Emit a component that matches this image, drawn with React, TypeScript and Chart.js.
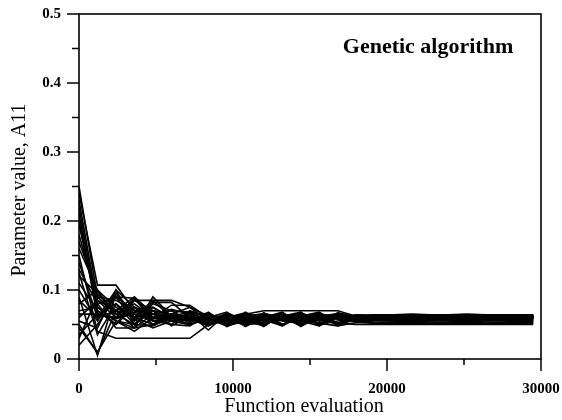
import { useEffect, useRef } from "react";
import { Chart, registerables } from "chart.js";

Chart.register(...registerables);

// Function evaluations at which each GA run was sampled
const EVALS = [0, 1200, 2400, 3600, 4800, 6000, 7200, 8400, 9600, 10800, 12000, 13200, 14400, 15600, 16800, 18000, 19200, 20400, 21600, 22800, 24000, 25200, 26400, 27600, 28800, 29500];

// Parameter value A11 for each run
const run01 = [0.25, 0.09, 0.085, 0.07, 0.065, 0.06, 0.058, 0.062, 0.06, 0.064, 0.06, 0.058, 0.061, 0.059, 0.062, 0.06, 0.061, 0.06, 0.06, 0.061, 0.06, 0.06, 0.061, 0.06, 0.06, 0.06];
const run02 = [0.24, 0.107, 0.107, 0.07, 0.06, 0.055, 0.06, 0.052, 0.058, 0.055, 0.06, 0.057, 0.055, 0.06, 0.058, 0.06, 0.062, 0.061, 0.062, 0.062, 0.061, 0.062, 0.062, 0.061, 0.062, 0.062];
const run03 = [0.22, 0.07, 0.05, 0.085, 0.085, 0.06, 0.055, 0.067, 0.048, 0.062, 0.066, 0.05, 0.06, 0.067, 0.052, 0.058, 0.06, 0.059, 0.06, 0.059, 0.06, 0.059, 0.06, 0.06, 0.059, 0.059];
const run04 = [0.21, 0.06, 0.09, 0.055, 0.082, 0.082, 0.06, 0.055, 0.062, 0.05, 0.058, 0.06, 0.052, 0.058, 0.06, 0.057, 0.058, 0.058, 0.057, 0.058, 0.058, 0.057, 0.058, 0.058, 0.058, 0.058];
const run05 = [0.2, 0.065, 0.06, 0.075, 0.06, 0.078, 0.078, 0.06, 0.068, 0.05, 0.066, 0.06, 0.048, 0.064, 0.052, 0.062, 0.063, 0.062, 0.063, 0.064, 0.063, 0.064, 0.063, 0.063, 0.063, 0.063];
const run06 = [0.16, 0.1, 0.075, 0.06, 0.07, 0.055, 0.05, 0.058, 0.065, 0.058, 0.052, 0.06, 0.065, 0.055, 0.06, 0.055, 0.052, 0.052, 0.052, 0.052, 0.052, 0.052, 0.052, 0.052, 0.052, 0.052];
const run07 = [0.15, 0.04, 0.03, 0.03, 0.03, 0.03, 0.03, 0.05, 0.055, 0.06, 0.055, 0.062, 0.058, 0.052, 0.06, 0.058, 0.06, 0.06, 0.06, 0.061, 0.06, 0.06, 0.06, 0.061, 0.06, 0.06];
const run08 = [0.13, 0.08, 0.045, 0.045, 0.05, 0.065, 0.058, 0.048, 0.06, 0.062, 0.056, 0.05, 0.06, 0.064, 0.058, 0.056, 0.056, 0.055, 0.056, 0.055, 0.056, 0.055, 0.055, 0.056, 0.055, 0.055];
const run09 = [0.12, 0.095, 0.065, 0.05, 0.075, 0.06, 0.065, 0.042, 0.066, 0.05, 0.065, 0.056, 0.068, 0.05, 0.064, 0.06, 0.061, 0.062, 0.061, 0.06, 0.061, 0.061, 0.062, 0.061, 0.061, 0.061];
const run10 = [0.1, 0.055, 0.095, 0.065, 0.055, 0.05, 0.07, 0.06, 0.052, 0.065, 0.07, 0.07, 0.07, 0.07, 0.07, 0.062, 0.06, 0.06, 0.059, 0.06, 0.06, 0.059, 0.06, 0.06, 0.06, 0.06];
const run11 = [0.09, 0.005, 0.095, 0.06, 0.05, 0.06, 0.062, 0.048, 0.065, 0.047, 0.06, 0.068, 0.05, 0.066, 0.048, 0.06, 0.058, 0.059, 0.058, 0.059, 0.059, 0.058, 0.059, 0.058, 0.059, 0.059];
const run12 = [0.08, 0.1, 0.06, 0.088, 0.055, 0.058, 0.065, 0.066, 0.055, 0.05, 0.062, 0.066, 0.055, 0.06, 0.065, 0.06, 0.062, 0.061, 0.061, 0.062, 0.061, 0.061, 0.062, 0.062, 0.061, 0.061];
const run13 = [0.07, 0.075, 0.055, 0.045, 0.065, 0.07, 0.055, 0.062, 0.06, 0.058, 0.05, 0.06, 0.065, 0.06, 0.052, 0.05, 0.05, 0.05, 0.05, 0.05, 0.05, 0.05, 0.05, 0.05, 0.05, 0.05];
const run14 = [0.065, 0.065, 0.08, 0.058, 0.045, 0.055, 0.06, 0.057, 0.062, 0.052, 0.058, 0.063, 0.05, 0.057, 0.06, 0.063, 0.064, 0.064, 0.065, 0.064, 0.064, 0.065, 0.064, 0.064, 0.064, 0.064];
const run15 = [0.06, 0.085, 0.07, 0.08, 0.06, 0.05, 0.048, 0.065, 0.05, 0.06, 0.057, 0.048, 0.062, 0.058, 0.05, 0.057, 0.057, 0.057, 0.058, 0.057, 0.057, 0.057, 0.058, 0.057, 0.057, 0.057];
const run16 = [0.055, 0.045, 0.1, 0.05, 0.07, 0.065, 0.052, 0.068, 0.05, 0.062, 0.047, 0.065, 0.055, 0.048, 0.067, 0.06, 0.062, 0.062, 0.063, 0.062, 0.062, 0.063, 0.062, 0.062, 0.063, 0.062];
const run17 = [0.05, 0.008, 0.07, 0.045, 0.09, 0.062, 0.058, 0.052, 0.058, 0.066, 0.06, 0.055, 0.052, 0.065, 0.058, 0.054, 0.055, 0.055, 0.054, 0.055, 0.055, 0.054, 0.055, 0.055, 0.054, 0.055];
const run18 = [0.02, 0.05, 0.09, 0.07, 0.075, 0.058, 0.06, 0.055, 0.063, 0.056, 0.062, 0.057, 0.063, 0.05, 0.055, 0.059, 0.06, 0.061, 0.06, 0.06, 0.061, 0.06, 0.06, 0.06, 0.061, 0.06];
const run19 = [0.035, 0.065, 0.058, 0.068, 0.058, 0.072, 0.065, 0.058, 0.048, 0.055, 0.06, 0.066, 0.058, 0.062, 0.066, 0.062, 0.063, 0.063, 0.062, 0.063, 0.063, 0.062, 0.063, 0.063, 0.062, 0.063];
const run20 = [0.045, 0.01, 0.055, 0.04, 0.06, 0.06, 0.05, 0.06, 0.056, 0.05, 0.052, 0.058, 0.06, 0.052, 0.048, 0.053, 0.052, 0.053, 0.053, 0.052, 0.053, 0.053, 0.052, 0.053, 0.053, 0.053];
const run21 = [0.18, 0.085, 0.06, 0.065, 0.058, 0.062, 0.068, 0.055, 0.06, 0.062, 0.058, 0.062, 0.066, 0.06, 0.058, 0.061, 0.061, 0.06, 0.061, 0.061, 0.06, 0.061, 0.061, 0.06, 0.061, 0.061];
const run22 = [0.14, 0.06, 0.07, 0.09, 0.065, 0.055, 0.05, 0.06, 0.062, 0.058, 0.055, 0.06, 0.054, 0.06, 0.062, 0.059, 0.059, 0.06, 0.059, 0.059, 0.06, 0.059, 0.059, 0.06, 0.059, 0.059];
const run23 = [0.11, 0.07, 0.05, 0.075, 0.05, 0.065, 0.075, 0.062, 0.058, 0.052, 0.064, 0.056, 0.06, 0.066, 0.06, 0.064, 0.062, 0.063, 0.062, 0.062, 0.063, 0.062, 0.062, 0.063, 0.062, 0.062];
const run24 = [0.23, 0.08, 0.09, 0.088, 0.06, 0.055, 0.065, 0.05, 0.06, 0.067, 0.05, 0.062, 0.068, 0.048, 0.06, 0.062, 0.061, 0.062, 0.061, 0.062, 0.061, 0.062, 0.061, 0.062, 0.061, 0.062];
const run25 = [0.17, 0.095, 0.07, 0.06, 0.085, 0.085, 0.075, 0.055, 0.064, 0.049, 0.067, 0.05, 0.062, 0.068, 0.05, 0.058, 0.059, 0.058, 0.059, 0.058, 0.059, 0.058, 0.059, 0.058, 0.059, 0.058];
const run26 = [0.125, 0.035, 0.08, 0.05, 0.048, 0.06, 0.058, 0.064, 0.047, 0.058, 0.063, 0.048, 0.066, 0.057, 0.065, 0.056, 0.057, 0.056, 0.057, 0.056, 0.057, 0.056, 0.057, 0.056, 0.057, 0.056];
const run27 = [0.085, 0.06, 0.1, 0.075, 0.065, 0.062, 0.06, 0.05, 0.067, 0.055, 0.048, 0.064, 0.051, 0.066, 0.049, 0.064, 0.063, 0.064, 0.063, 0.064, 0.064, 0.063, 0.064, 0.064, 0.063, 0.064];
const run28 = [0.03, 0.09, 0.065, 0.085, 0.07, 0.048, 0.062, 0.057, 0.05, 0.068, 0.055, 0.067, 0.047, 0.062, 0.064, 0.059, 0.06, 0.06, 0.06, 0.059, 0.06, 0.06, 0.059, 0.06, 0.06, 0.06];
const run29 = [0.195, 0.075, 0.055, 0.05, 0.08, 0.07, 0.068, 0.063, 0.055, 0.05, 0.06, 0.065, 0.058, 0.05, 0.067, 0.06, 0.061, 0.061, 0.061, 0.062, 0.061, 0.061, 0.062, 0.061, 0.061, 0.061];

const RUNS = [run01, run02, run03, run04, run05, run06, run07, run08, run09, run10, run11, run12, run13, run14, run15, run16, run17, run18, run19, run20, run21, run22, run23, run24, run25, run26, run27, run28, run29];

const X_MAJOR = [0, 10000, 20000, 30000];
const X_MINOR = [5000, 15000, 25000];
const Y_MAJOR = [0, 0.1, 0.2, 0.3, 0.4, 0.5];
const Y_MINOR = [0.05, 0.15, 0.25, 0.35, 0.45];

const TITLE = "Genetic algorithm";
const X_LABEL = "Function evaluation";
const Y_LABEL = "Parameter value, A11";

const SERIF = "'Liberation Serif', 'DejaVu Serif', serif";

const decorPlugin = {
  id: "decor",
  afterDraw(chart: any) {
    const { ctx, chartArea: a, scales } = chart;
    const xs = scales.x;
    const ys = scales.y;
    ctx.save();
    ctx.strokeStyle = "#000";
    ctx.lineWidth = 1.6;
    ctx.strokeRect(a.left, a.top, a.right - a.left, a.bottom - a.top);
    ctx.lineWidth = 1.5;
    const seg = (x1: number, y1: number, x2: number, y2: number) => {
      ctx.beginPath();
      ctx.moveTo(x1, y1);
      ctx.lineTo(x2, y2);
      ctx.stroke();
    };
    for (const v of Y_MAJOR) {
      const py = ys.getPixelForValue(v);
      seg(a.left - 12, py, a.left, py);
    }
    for (const v of Y_MINOR) {
      const py = ys.getPixelForValue(v);
      seg(a.left - 7, py, a.left, py);
    }
    for (const v of X_MAJOR) {
      const px = xs.getPixelForValue(v);
      seg(px, a.bottom, px, a.bottom + 12);
    }
    for (const v of X_MINOR) {
      const px = xs.getPixelForValue(v);
      seg(px, a.bottom, px, a.bottom + 6);
    }
    ctx.fillStyle = "#000";
    ctx.textAlign = "center";
    ctx.textBaseline = "alphabetic";
    ctx.font = `bold 22px ${SERIF}`;
    ctx.fillText(TITLE, 428, 53);
    ctx.font = `20px ${SERIF}`;
    ctx.fillText(X_LABEL, 304, 412);
    ctx.save();
    ctx.translate(25, 190);
    ctx.rotate(-Math.PI / 2);
    ctx.fillText(Y_LABEL, 0, 0);
    ctx.restore();
    ctx.restore();
  },
};

export default function App() {
  const ref = useRef<HTMLCanvasElement | null>(null);
  useEffect(() => {
    if (!ref.current) return;
    const datasets = RUNS.map((run, k) => ({
      label: `run ${k + 1}`,
      data: EVALS.map((x, i) => ({ x, y: run[i] })),
      borderColor: "#000",
      borderWidth: 1.6,
      pointRadius: 0,
      tension: 0,
      fill: false,
    }));
    const chart = new Chart(ref.current, {
      type: "line",
      data: { datasets },
      options: {
        responsive: false,
        animation: false,
        layout: { padding: { top: 14, right: 21, left: 0, bottom: 0 } },
        plugins: { legend: { display: false }, tooltip: { enabled: false }, title: { display: false } },
        scales: {
          x: {
            type: "linear",
            min: 0,
            max: 30000,
            grid: { display: false, drawTicks: false },
            border: { display: false },
            afterFit: (s: any) => {
              s.height = 61;
              s.paddingLeft = 0;
              s.paddingRight = 0;
            },
            ticks: {
              stepSize: 10000,
              padding: 21,
              color: "#000",
              font: { family: SERIF, size: 15, weight: "bold" },
              callback: (v: any) => `${v}`,
              maxRotation: 0,
            },
          },
          y: {
            type: "linear",
            min: 0,
            max: 0.5,
            grid: { display: false, drawTicks: false },
            border: { display: false },
            afterFit: (s: any) => {
              s.width = 79;
              s.paddingTop = 0;
              s.paddingBottom = 0;
            },
            ticks: {
              stepSize: 0.1,
              padding: 18,
              color: "#000",
              font: { family: SERIF, size: 15, weight: "bold" },
              callback: (v: any) => (v === 0 ? "0" : Number(v).toFixed(1)),
            },
          },
        },
      },
      plugins: [decorPlugin],
    });
    return () => chart.destroy();
  }, []);
  return (
    <div style={{ position: "fixed", left: 0, top: 0, width: 562, height: 420, background: "#fff" }}>
      <canvas ref={ref} width={562} height={420} style={{ width: 562, height: 420, display: "block" }} />
    </div>
  );
}
